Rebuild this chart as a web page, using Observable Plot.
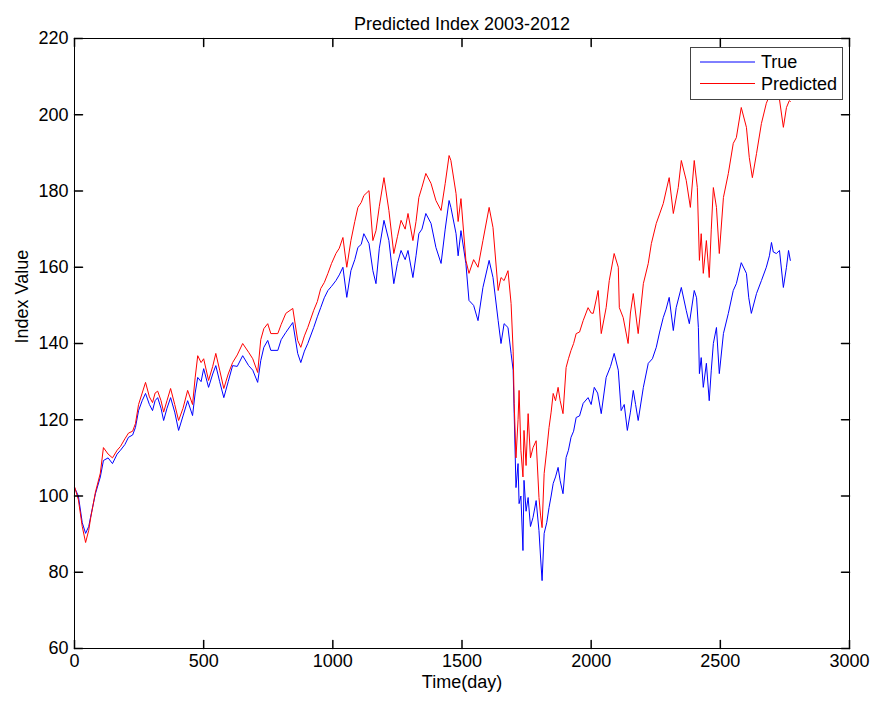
<!DOCTYPE html>
<html>
<head>
<meta charset="utf-8">
<script src="https://cdn.jsdelivr.net/npm/d3@7"></script>
<script src="https://cdn.jsdelivr.net/npm/@observablehq/plot@0.6"></script>
<style>
  html, body { margin: 0; padding: 0; background: #fff; }
  #chart { width: 874px; height: 701px; }
  svg { font-family: "Liberation Sans", Arial, Helvetica, sans-serif; }
</style>
</head>
<body>
<div id="chart"></div>
<script>
const chartTitle = "Predicted Index 2003-2012";
const xLabel = "Time(day)";
const yLabel = "Index Value";
const seriesNames = ["True", "Predicted"];
const seriesColors = ["#0000ff", "#ff0000"];
const xTicks = [0, 500, 1000, 1500, 2000, 2500, 3000];
const yTicks = [60, 80, 100, 120, 140, 160, 180, 200, 220];

const trueDay = [0,15,30,43,55,62,81,100,112,130,147,165,178,195,209,225,236,248,262,275,290,302,312,322,335,345,358,372,388,403,420,438,457,467,477,490,500,519,535,547,562,578,595,612,630,651,674,690,709,721,733,748,760,787,800,818,845,864,876,890,903,926,940,953,967,981,995,1012,1025,1039,1054,1070,1085,1097,1110,1120,1140,1155,1167,1180,1198,1217,1236,1250,1264,1280,1291,1310,1322,1333,1345,1360,1380,1399,1419,1435,1450,1457,1477,1485,1496,1515,1527,1545,1562,1581,1605,1620,1640,1651,1663,1678,1690,1698,1702,1709,1717,1721,1728,1736,1740,1748,1756,1765,1775,1787,1798,1804,1810,1818,1828,1837,1845,1853,1862,1872,1880,1891,1903,1912,1922,1932,1942,1955,1969,1988,2000,2012,2025,2039,2058,2075,2089,2105,2116,2128,2140,2152,2163,2172,2182,2202,2221,2237,2252,2265,2279,2290,2302,2318,2329,2349,2368,2380,2399,2408,2415,2419,2426,2434,2446,2457,2465,2473,2485,2496,2512,2531,2550,2562,2581,2601,2610,2620,2640,2659,2678,2690,2698,2705,2717,2729,2744,2756,2764,2771];
const trueValue = [102.2,100,93,90.2,92,94.4,100.6,105,109.3,110,108.5,111,112,113.5,115.4,116,118,122.4,125,126.9,124,122.4,125,125.8,123,119.8,123,125.8,122,117.2,121,125,121.1,127,131.1,130,133.4,128.5,132,134.2,130,125.8,130,134.2,134,136.8,134.2,133,129.8,135.5,139,140.8,138.2,138.2,141,142.9,145.5,137.4,135,138,140,144.2,147,149.4,152,153.9,155,156.5,158,160,152.1,159.1,162,165.2,166,168.8,166.2,159.1,155.7,165,172.3,167,155.7,161,164.4,162,164.4,157.3,163,168.8,170,174.1,171.5,165.2,161,170,177.5,175.7,168.8,163,169.6,161,151.3,150,146,154.7,161.8,157.3,146,140,145.2,144.2,137.4,133,121.6,102.2,108.5,98,100,85.7,104.1,96,99.6,92,94.4,98.8,90.9,84,77.8,90.2,93,97,100,103.3,105,107.5,104,100.6,110.1,112,115.4,117,120.6,121,124.3,125.8,124,128.5,127,121.6,131.1,134,137.4,133,122.4,124,117.2,122,127.7,124,119.8,128.5,134.8,136,139,143,146.8,149,152.1,143.4,149.4,154.7,148.7,145.2,153.9,152,144.2,132.1,136.3,128.5,134.8,125,133,140,144.2,132.1,142.6,147.9,153.9,155.7,161.2,158.4,152,147.9,153.1,156.5,160,163,166.5,164,163.6,164.4,154.7,160,164.4,161.8];

const predDay = [0,15,30,43,55,62,81,100,112,130,147,165,178,195,209,225,236,248,262,275,290,302,312,322,335,345,358,372,388,403,420,438,457,467,477,490,500,519,535,547,562,578,595,612,630,651,674,690,709,721,733,748,760,787,800,818,845,864,876,890,903,926,940,953,967,981,995,1012,1025,1039,1054,1070,1085,1097,1110,1120,1140,1155,1167,1180,1198,1217,1236,1250,1264,1280,1291,1310,1322,1333,1345,1360,1380,1399,1419,1435,1450,1457,1477,1485,1496,1515,1527,1545,1562,1581,1605,1620,1640,1651,1663,1678,1690,1698,1702,1709,1717,1721,1728,1736,1740,1748,1756,1765,1775,1787,1798,1804,1810,1818,1828,1837,1845,1853,1862,1872,1880,1891,1903,1912,1922,1932,1942,1955,1969,1988,2000,2008,2027,2039,2058,2070,2089,2105,2109,2124,2143,2152,2163,2172,2182,2202,2221,2233,2252,2265,2279,2290,2302,2318,2337,2349,2368,2384,2399,2411,2419,2426,2434,2446,2457,2465,2473,2485,2496,2512,2531,2550,2562,2581,2601,2612,2624,2640,2659,2678,2690,2705,2717,2729,2744,2756,2767,2771];
const predValue = [102.5,99,92,87.8,91,94,101,106,112.7,111,110,112,113,115,116.5,117,119,124,127,129.8,126,124.5,127,127.5,125,122,125,128.2,124,119.8,123,127.7,124,131,136.8,135,136,130.3,134,137.4,133,128.2,132,135,137,140,137.7,136,132.4,141,143.9,145.2,142.6,142.6,145,147.9,149.2,140.8,139,142,144.2,148.7,151,154.4,156,158.4,161,163.6,165,167.8,160,167,172,175.7,177,178.8,180.1,167,169.6,176,183.5,174.9,163.6,168,172.3,170,174.1,167,172,178.3,181,184.6,182,177.5,174.9,182,189.3,188,179.3,172,178,161.8,158.4,162,160,167,175.7,170.4,153.9,157.3,156.5,159.1,150.5,138,124.3,110,120,127.7,112,105,117.2,108,121.6,110,112.7,114.5,99.6,95,91.7,105.9,112,118,122,126.9,125,128.5,125,121.6,133.7,136,138.2,140,142.6,143,146,149.4,148,147.9,153.9,142.6,149.4,156.5,163.6,160,149.4,146.8,140,148,153.1,148,142.6,155.7,161,166.2,171.5,174,176.7,180,183.5,174.1,180.9,188,182.8,175.7,188,180.9,161.8,168.8,158.4,167,157.3,170,180.9,175.7,163.6,178.3,184.6,192.5,194,201.9,196.7,188.8,183.5,189.8,197.7,203,205,206,205,204,196.7,201.9,203.7,203.5];

const trueData = trueDay.map((d, i) => ({day: d, value: trueValue[i]}));
const predData = predDay.map((d, i) => ({day: d, value: predValue[i]}));

const tickShape = {draw(context, l) { context.moveTo(0, 0); context.lineTo(0, -l); }};
const FS = 18;

const plot = Plot.plot({
  width: 874,
  height: 701,
  marginLeft: 74,
  marginRight: 25,
  marginTop: 38,
  marginBottom: 53,
  style: {fontFamily: '"Liberation Sans", Arial, Helvetica, sans-serif', fontSize: FS + "px", background: "#fff", color: "#000"},
  x: {domain: [0, 3000], ticks: xTicks},
  y: {domain: [60, 220], ticks: yTicks},
  marks: [
    Plot.line(trueData, {x: "day", y: "value", stroke: seriesColors[0], strokeWidth: 1}),
    Plot.line(predData, {x: "day", y: "value", stroke: seriesColors[1], strokeWidth: 1}),
    Plot.frame({stroke: "#000", strokeWidth: 1}),
    Plot.vector(xTicks, {x: d => d, frameAnchor: "bottom", length: 8, rotate: 0, anchor: "start", shape: tickShape, stroke: "#000"}),
    Plot.vector(xTicks, {x: d => d, frameAnchor: "top", length: 8, rotate: 180, anchor: "start", shape: tickShape, stroke: "#000"}),
    Plot.vector(yTicks, {y: d => d, frameAnchor: "left", length: 8, rotate: 90, anchor: "start", shape: tickShape, stroke: "#000"}),
    Plot.vector(yTicks, {y: d => d, frameAnchor: "right", length: 8, rotate: -90, anchor: "start", shape: tickShape, stroke: "#000"}),
    Plot.axisX(xTicks, {anchor: "bottom", tickSize: 0, tickPadding: 6, label: null, fontSize: FS, tickFormat: d => String(d)}),
    Plot.axisY(yTicks, {anchor: "left", tickSize: 0, tickPadding: 6, label: null, fontSize: FS, tickFormat: d => String(d)}),
    Plot.text([chartTitle], {frameAnchor: "top", dy: -21, fontSize: FS, fill: "#000"}),
    Plot.text([xLabel], {frameAnchor: "bottom", dy: 39, fontSize: FS, fill: "#000"}),
    Plot.text([yLabel], {frameAnchor: "left", dx: -52, rotate: -90, fontSize: FS, fill: "#000"})
  ]
});

// Legend box (drawn on top of plot area, top-right corner)
const svg = d3.select(plot);
const lg = svg.append("g").attr("class", "legend").attr("text-anchor", "start");
lg.append("rect").attr("x", 690.5).attr("y", 47.5).attr("width", 152).attr("height", 52)
  .attr("fill", "#fff").attr("stroke", "#444").attr("stroke-width", 1);
seriesNames.forEach((name, i) => {
  const yy = 62 + i * 21.5;
  lg.append("line").attr("x1", 700).attr("x2", 755).attr("y1", yy).attr("y2", yy)
    .attr("stroke", seriesColors[i]).attr("stroke-width", 1);
  lg.append("text").attr("x", 761).attr("y", yy).attr("dy", "0.35em")
    .attr("text-anchor", "start")
    .attr("font-size", FS).attr("fill", "#000").text(name);
});

document.getElementById("chart").appendChild(plot);
</script>
</body>
</html>
